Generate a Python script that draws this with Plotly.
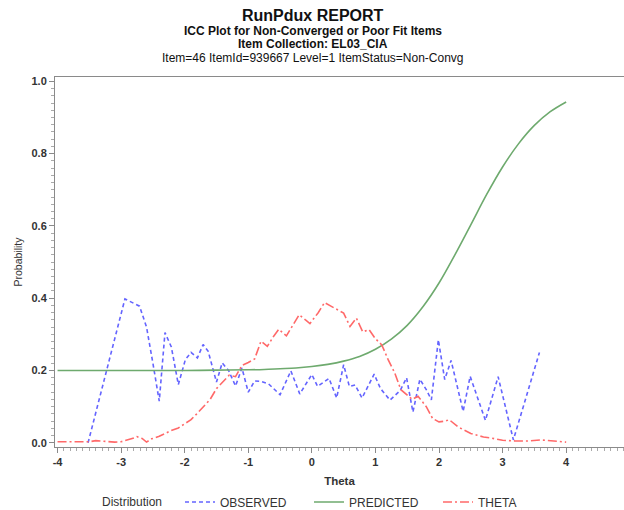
import plotly.graph_objects as go

# Observed proportion correct by theta bin
obs_theta = [-3.52, -2.94, -2.71, -2.60, -2.50, -2.40, -2.31, -2.21, -2.10, -1.99,
             -1.90, -1.80, -1.71, -1.63, -1.50, -1.41, -1.31, -1.20, -1.10, -1.00,
             -0.90, -0.80, -0.68, -0.50, -0.33, -0.19, 0.00, 0.09, 0.27, 0.39,
             0.50, 0.59, 0.68, 0.79, 0.98, 1.08, 1.23, 1.39, 1.49, 1.59,
             1.70, 1.80, 1.88, 1.99, 2.09, 2.19, 2.38, 2.49, 2.73, 2.93,
             3.17, 3.58]
obs_prob = [0.000, 0.398, 0.378, 0.320, 0.220, 0.115, 0.305, 0.265, 0.161, 0.230,
            0.250, 0.235, 0.272, 0.253, 0.168, 0.221, 0.200, 0.157, 0.207, 0.140,
            0.171, 0.170, 0.163, 0.133, 0.199, 0.135, 0.189, 0.156, 0.178, 0.124,
            0.216, 0.156, 0.160, 0.124, 0.190, 0.150, 0.118, 0.145, 0.180, 0.085,
            0.176, 0.147, 0.119, 0.285, 0.175, 0.228, 0.087, 0.184, 0.062, 0.183,
            0.008, 0.250]

# Model-predicted item characteristic curve
pred_theta = [-4.00, -3.50, -3.00, -2.50, -2.00, -1.50, -1.00, -0.75, -0.50, -0.25,
              0.00, 0.25, 0.50, 0.75, 1.00, 1.25, 1.50, 1.75, 2.00, 2.25,
              2.50, 2.75, 3.00, 3.25, 3.50, 3.75, 4.00]
pred_prob = [0.200, 0.200, 0.200, 0.200, 0.200, 0.201, 0.202, 0.203, 0.205, 0.207,
             0.211, 0.217, 0.226, 0.239, 0.259, 0.287, 0.325, 0.377, 0.442, 0.520,
             0.603, 0.687, 0.763, 0.827, 0.878, 0.916, 0.943]

# Theta distribution of examinees
dist_theta = [-4.00, -3.90, -3.80, -3.70, -3.60, -3.50, -3.40, -3.30, -3.20, -3.10,
              -3.00, -2.90, -2.80, -2.75, -2.67, -2.60, -2.52, -2.40, -2.30, -2.20,
              -2.10, -2.00, -1.90, -1.80, -1.70, -1.60, -1.50, -1.40, -1.30, -1.20,
              -1.10, -1.00, -0.90, -0.80, -0.70, -0.60, -0.52, -0.40, -0.30, -0.20,
              -0.10, -0.03, 0.10, 0.20, 0.30, 0.40, 0.50, 0.60, 0.70, 0.80,
              0.90, 1.00, 1.10, 1.20, 1.30, 1.40, 1.50, 1.58, 1.67, 1.80,
              1.90, 2.00, 2.10, 2.16, 2.30, 2.40, 2.50, 2.60, 2.70, 2.80,
              2.90, 3.00, 3.20, 3.40, 3.60, 3.80, 4.00]
dist_prob = [0.003, 0.003, 0.002, 0.003, 0.002, 0.003, 0.006, 0.004, 0.002, 0.002,
             0.003, 0.007, 0.013, 0.017, 0.012, 0.002, 0.011, 0.018, 0.027, 0.035,
             0.041, 0.052, 0.064, 0.082, 0.102, 0.120, 0.150, 0.170, 0.187, 0.183,
             0.214, 0.222, 0.232, 0.281, 0.267, 0.295, 0.314, 0.296, 0.325, 0.354,
             0.340, 0.330, 0.360, 0.388, 0.378, 0.368, 0.359, 0.322, 0.345, 0.307,
             0.313, 0.288, 0.271, 0.230, 0.195, 0.147, 0.133, 0.120, 0.129, 0.100,
             0.067, 0.058, 0.060, 0.064, 0.044, 0.035, 0.026, 0.021, 0.016, 0.014,
             0.010, 0.007, 0.005, 0.005, 0.008, 0.004, 0.002]

FONT = "Liberation Sans, Arial, sans-serif"
AXIS_GRAY = "#8a8a8a"
TEXT = "#333333"

fig = go.Figure()
fig.add_trace(go.Scatter(
    x=obs_theta, y=obs_prob, mode="lines", name="OBSERVED",
    line=dict(color="rgb(100,100,255)", width=1.6, dash="4px,3px"),
))
fig.add_trace(go.Scatter(
    x=pred_theta, y=pred_prob, mode="lines", name="PREDICTED",
    line=dict(color="rgb(110,170,110)", width=1.6, shape="spline"),
))
fig.add_trace(go.Scatter(
    x=dist_theta, y=dist_prob, mode="lines", name="THETA",
    line=dict(color="rgb(255,105,105)", width=1.6, dash="9px,3px,2px,3px"),
))

PLOT_H = 510 - 77 - 62.5


def paper_y(ypix):
    return 1 + (77 - ypix) / PLOT_H


titles = [
    ("<b>RunPdux REPORT</b>", 16, 15),
    ("<b>ICC Plot for Non-Converged or Poor Fit Items</b>", 12, 31),
    ("<b>Item Collection: EL03_CIA</b>", 12, 44),
    ("Item=46 ItemId=939667 Level=1 ItemStatus=Non-Convg", 12, 58),
]
annotations = []
for txt, size, ypix in titles:
    annotations.append(dict(
        text=txt, xref="paper", yref="paper", showarrow=False,
        x=(313 - 55) / (624 - 55), xanchor="center",
        y=paper_y(ypix), yanchor="middle",
        font=dict(family=FONT, size=size, color="#111111"),
    ))

# legend heading drawn alongside the legend row
annotations.append(dict(
    text="Distribution", xref="paper", yref="paper", showarrow=False,
    x=(100 - 55) / (624 - 55), xanchor="left",
    y=paper_y(503), yanchor="middle",
    font=dict(family=FONT, size=12, color=TEXT),
))

fig.update_layout(
    width=624, height=510,
    margin=dict(l=55, r=0, t=77, b=62.5),
    paper_bgcolor="white", plot_bgcolor="white",
    font=dict(family=FONT, color=TEXT),
    annotations=annotations,
    showlegend=True,
    legend=dict(
        orientation="h", xref="container", yref="container",
        x=180 / 624, xanchor="left", y=1 - 502 / 510, yanchor="middle",
        font=dict(size=12, color=TEXT),
        itemwidth=30, entrywidth=84, entrywidthmode="pixels",
    ),
    xaxis=dict(
        range=[-4.04, 4.91], tickmode="array",
        tickvals=[-4, -3, -2, -1, 0, 1, 2, 3, 4],
        ticktext=["<b>-4</b>", "<b>-3</b>", "<b>-2</b>", "<b>-1</b>", "<b>0</b>",
                  "<b>1</b>", "<b>2</b>", "<b>3</b>", "<b>4</b>"],
        showgrid=False, zeroline=False,
        showline=True, linecolor=AXIS_GRAY, linewidth=1, mirror=True,
        ticks="outside", ticklen=5, tickcolor=AXIS_GRAY,
        minor=dict(ticks="outside", ticklen=3, dtick=0.1, tick0=0, tickcolor="#aaaaaa"),
        tickfont=dict(size=11, color=TEXT),
        title=dict(text="<b>Theta</b>", font=dict(size=11.5, color=TEXT), standoff=10),
    ),
    yaxis=dict(
        range=[-0.0116, 1.012], tickmode="array",
        tickvals=[0, 0.2, 0.4, 0.6, 0.8, 1.0],
        ticktext=["<b>0.0</b>", "<b>0.2</b>", "<b>0.4</b>", "<b>0.6</b>", "<b>0.8</b>", "<b>1.0</b>"],
        showgrid=False, zeroline=False,
        showline=True, linecolor=AXIS_GRAY, linewidth=1,
        ticks="outside", ticklen=5, tickcolor=AXIS_GRAY,
        minor=dict(ticks="outside", ticklen=3, dtick=0.02, tick0=0, tickcolor="#aaaaaa"),
        tickfont=dict(size=11, color=TEXT),
        title=dict(text="Probability", font=dict(size=10.5, color=TEXT), standoff=6),
    ),
)

fig.write_html("out.html")
